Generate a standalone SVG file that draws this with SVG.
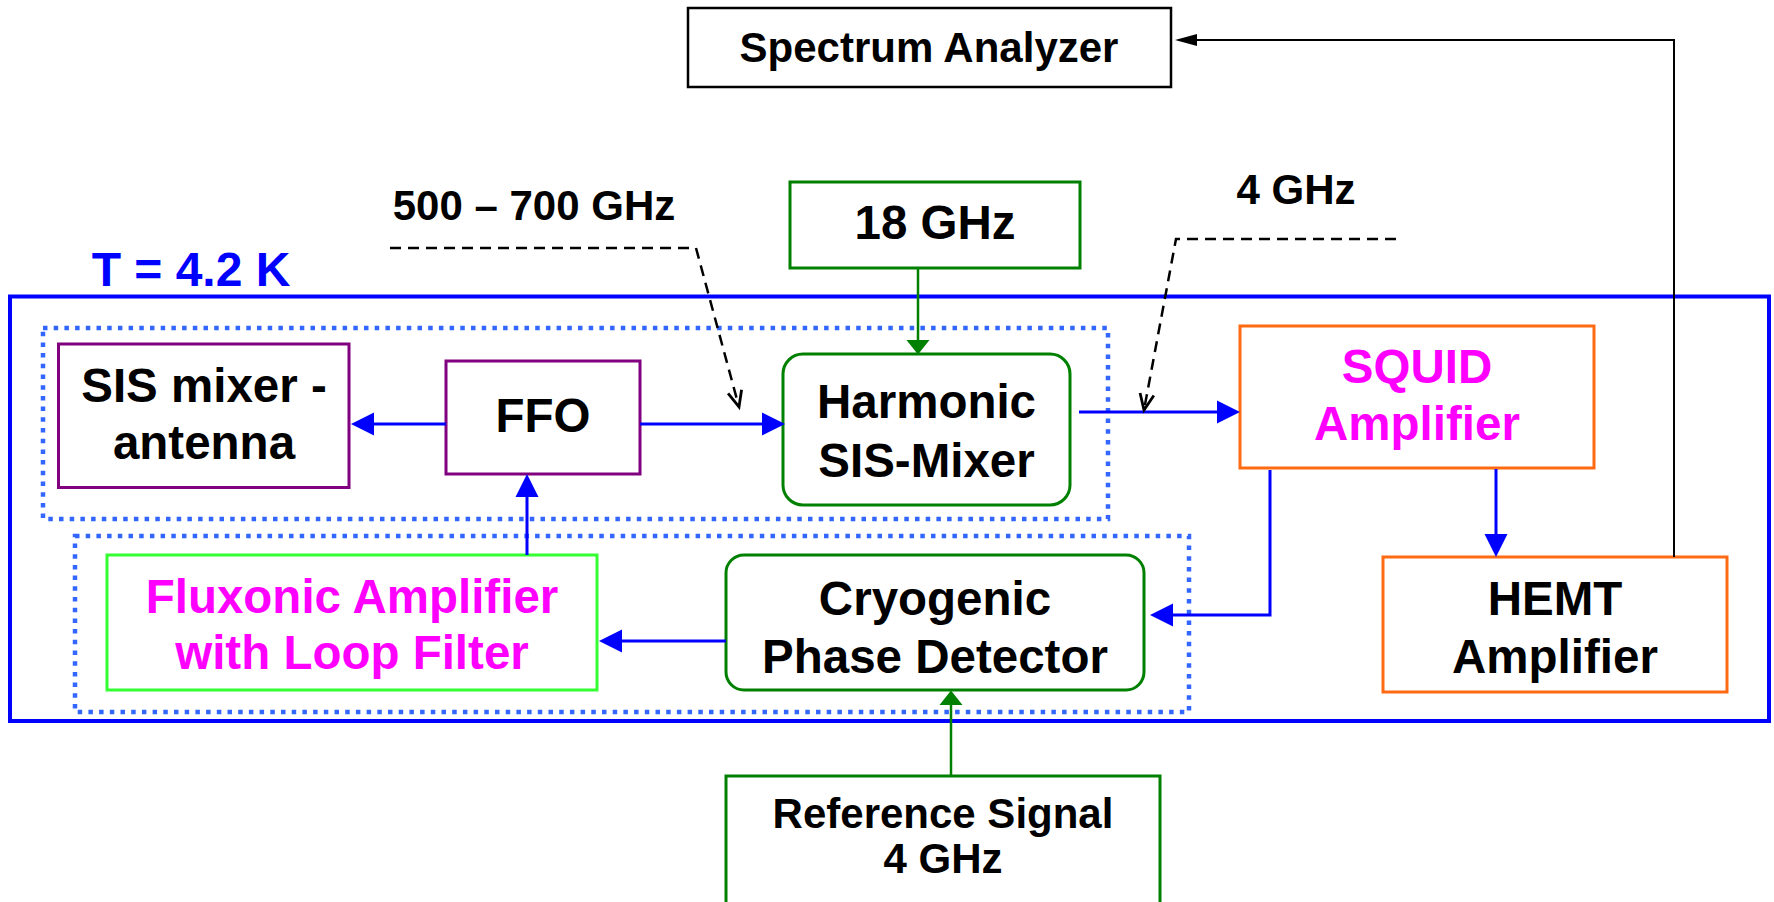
<svg xmlns="http://www.w3.org/2000/svg" width="1774" height="902" viewBox="0 0 1774 902">
<style>
  text { font-family: "Liberation Sans", Arial, Helvetica, sans-serif; font-weight: bold; text-anchor: middle; fill: #000; }
  .big { font-size: 47.5px; }
  .lab { font-size: 42px; }
  .mag { fill: #FF00FF; }
  .tk { fill: #0000FF; font-size: 48px; }
  .purple { fill: #fff; stroke: #800080; stroke-width: 3; }
  .green { fill: #fff; stroke: #008000; stroke-width: 3; }
  .orange { fill: #fff; stroke: #FF6A13; stroke-width: 3; }
  .lime { fill: #fff; stroke: #33FF33; stroke-width: 3; }
  .black { fill: #fff; stroke: #000; stroke-width: 2.5; }
  .outer { fill: none; stroke: #0000FF; stroke-width: 4; }
  .dotted { fill: none; stroke: #3366FF; stroke-width: 4.5; stroke-dasharray: 4.5 6.2; }
  .blue { fill: none; stroke: #0000FF; stroke-width: 3; }
  .gline { fill: none; stroke: #008000; stroke-width: 2.5; }
  .kline { fill: none; stroke: #000; stroke-width: 2; }
  .dash { fill: none; stroke: #000; stroke-width: 2.5; stroke-dasharray: 11 7; }
</style>
<defs>
  <marker id="ab" markerUnits="userSpaceOnUse" viewBox="0 0 24 24" markerWidth="24" markerHeight="24" refX="0" refY="12" orient="auto">
    <path d="M0,0.5 L23,12 L0,23.5 z" fill="#0000FF"/>
  </marker>
  <marker id="ag" markerUnits="userSpaceOnUse" viewBox="0 0 15 24" markerWidth="15" markerHeight="24" refX="0" refY="12" orient="auto">
    <path d="M0,0.5 L14.5,12 L0,23.5 z" fill="#008000"/>
  </marker>
  <marker id="ak" markerUnits="userSpaceOnUse" viewBox="0 0 23 13" markerWidth="23" markerHeight="13" refX="0" refY="6.5" orient="auto">
    <path d="M0,0.5 L22,6.5 L0,12.5 z" fill="#000"/>
  </marker>
  <marker id="av" markerUnits="userSpaceOnUse" viewBox="-19 -10 21 20" markerWidth="21" markerHeight="20" refX="0" refY="0" orient="auto" overflow="visible">
    <path d="M-16,-7 L0,0 L-16,7" fill="none" stroke="#000" stroke-width="2.8" stroke-dasharray="none"/>
  </marker>
</defs>

<g id="cryostat">
  <rect class="outer" x="10" y="296.5" width="1759" height="424.5"/>
  <text class="tk" x="191" y="286">T = 4.2 K</text>
</g>
<g id="group-top">
  <rect class="dotted" x="43" y="328" width="1065" height="191"/>
</g>
<g id="group-bottom">
  <rect class="dotted" x="75" y="536" width="1114" height="176"/>
</g>

<g id="spectrum-analyzer">
  <rect class="black" x="688" y="8" width="483" height="79"/>
  <text class="lab" x="929" y="62">Spectrum Analyzer</text>
</g>
<g id="label-500-700">
  <text class="lab" x="534" y="220">500 – 700 GHz</text>
</g>
<g id="label-4ghz">
  <text class="lab" x="1296" y="204">4 GHz</text>
</g>
<g id="lo-18ghz">
  <rect class="green" x="790" y="182" width="290" height="86"/>
  <text class="big" x="935" y="239">18 GHz</text>
</g>
<g id="sis-mixer-antenna">
  <rect class="purple" x="58.5" y="344" width="290.5" height="143.5"/>
  <text class="big" x="204" y="402">SIS mixer -</text>
  <text class="big" x="204" y="459">antenna</text>
</g>
<g id="ffo">
  <rect class="purple" x="446" y="361" width="194" height="113"/>
  <text class="big" x="543" y="432">FFO</text>
</g>
<g id="harmonic-mixer">
  <rect class="green" x="783" y="354" width="287" height="151" rx="20" ry="20"/>
  <text class="big" x="926.5" y="418">Harmonic</text>
  <text class="big" x="926.5" y="477">SIS-Mixer</text>
</g>
<g id="squid-amplifier">
  <rect class="orange" x="1240" y="326" width="354" height="142"/>
  <text class="big mag" x="1417" y="383">SQUID</text>
  <text class="big mag" x="1417" y="440">Amplifier</text>
</g>
<g id="hemt-amplifier">
  <rect class="orange" x="1383" y="557" width="344" height="135"/>
  <text class="big" x="1555" y="615">HEMT</text>
  <text class="big" x="1555" y="673">Amplifier</text>
</g>
<g id="phase-detector">
  <rect class="green" x="726" y="555" width="418" height="135" rx="18" ry="18"/>
  <text class="big" x="935" y="615">Cryogenic</text>
  <text class="big" x="935" y="673">Phase Detector</text>
</g>
<g id="fluxonic-amplifier">
  <rect class="lime" x="107" y="555" width="490" height="135"/>
  <text class="big mag" x="352" y="613">Fluxonic Amplifier</text>
  <text class="big mag" x="352" y="669">with Loop Filter</text>
</g>
<g id="reference-signal">
  <rect class="green" x="726" y="776" width="434" height="140"/>
  <text class="lab" x="943" y="828">Reference Signal</text>
  <text class="lab" x="943" y="873">4 GHz</text>
</g>

<g id="connectors">
  <path class="blue" d="M446,424 L374,424" marker-end="url(#ab)"/>
  <path class="blue" d="M640,424 L762,424" marker-end="url(#ab)"/>
  <path class="gline" d="M918,268 L918,340" marker-end="url(#ag)"/>
  <path class="blue" d="M1079,412 L1217,412" marker-end="url(#ab)"/>
  <path class="blue" d="M1496,469 L1496,534" marker-end="url(#ab)"/>
  <path class="blue" d="M1270,470 L1270,615 L1173,615" marker-end="url(#ab)"/>
  <path class="blue" d="M726,641 L622,641" marker-end="url(#ab)"/>
  <path class="blue" d="M527,555 L527,497" marker-end="url(#ab)"/>
  <path class="gline" d="M951,776 L951,705" marker-end="url(#ag)"/>
  <path class="kline" d="M1674,557 L1674,40 L1197,40" marker-end="url(#ak)"/>
  <path class="dash" d="M390,248 L696,248 L739,407" marker-end="url(#av)"/>
  <path class="dash" d="M1396,239 L1176,239 L1144,410" marker-end="url(#av)"/>
</g>
</svg>
